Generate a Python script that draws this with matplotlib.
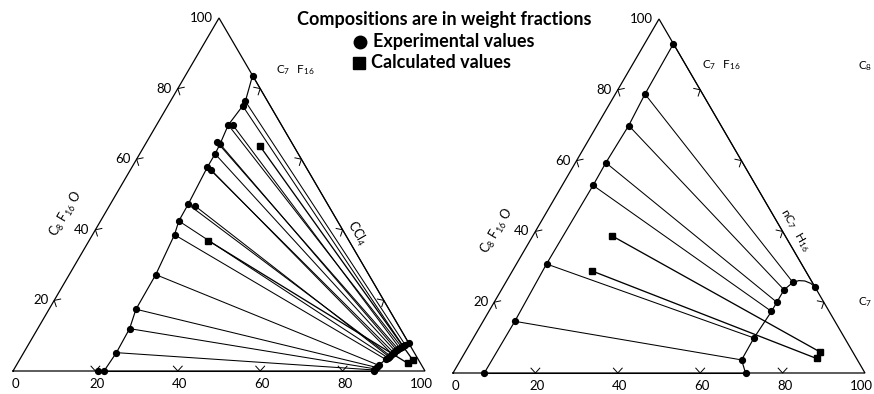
import numpy as np
import matplotlib
matplotlib.use("Agg")
import matplotlib.pyplot as plt
from matplotlib.lines import Line2D

# ---------------- data (weight %) ----------------
# b = bottom-axis reading (right-vertex component), h = C8F16O (apex, left axis)
# Left diagram: C8F16O / C7F16 / CCl4
left_fc_b = [16.3, 18.2, 18.2, 17.4, 18.5, 16.9, 18.1, 18.3, 18.3, 19.7,
             18.9, 20.9, 19.0, 19.9, 21.0, 21.1, 22.3, 22.5, 22.1]
left_fc_h = [83.7, 76.4, 75.1, 69.7, 69.7, 65.0, 64.3, 61.5, 57.8, 56.9,
             47.2, 46.7, 42.5, 38.6, 27.3, 17.5, 12.0, 5.2, 0.0]
left_cc_b = [92.0, 91.5, 91.2, 90.9, 90.6, 90.4, 90.2, 90.0, 89.8, 89.6,
             89.4, 89.3, 89.0, 88.8, 88.0, 87.8, 87.6, 87.4, 87.6]
left_cc_h = [8.0, 7.4, 7.0, 6.8, 6.5, 6.2, 5.9, 5.6, 5.2, 4.8,
             4.3, 4.0, 3.8, 3.3, 1.6, 1.0, 0.6, 0.3, 0.0]
left_extra_b = [20.7]
left_extra_h = [0.0]
left_calc_fc_b = [28.1, 29.0]
left_calc_fc_h = [63.7, 36.9]
left_calc_cc_b = [95.5, 94.7]
left_calc_cc_h = [3.1, 2.2]
left_curve_b = [22.1, 22.5, 22.3, 21.1, 21.0, 19.9, 19.0, 18.9, 18.3, 18.3,
                18.1, 17.4, 18.2, 18.2, 16.3]
left_curve_h = [0.0, 5.2, 12.0, 17.5, 27.3, 38.6, 42.5, 47.2, 57.8, 61.5,
                64.3, 69.7, 75.1, 76.4, 83.7]

# Right diagram: C8F16O / C7F16 / nC7H16
right_fc_b = [7.0, 7.2, 7.7, 7.4, 7.5, 7.3, 7.7, 7.6]
right_fc_h = [93.0, 78.8, 69.9, 59.4, 53.0, 30.8, 14.6, 0.0]
right_hc_b = [75.8, 69.7, 68.6, 68.6, 68.6, 68.1, 68.2, 71.0]
right_hc_h = [24.2, 25.6, 23.5, 20.0, 17.4, 9.9, 3.7, 0.0]
right_calc_fc_b = [19.1, 19.4]
right_calc_fc_h = [38.8, 28.8]
right_calc_hc_b = [86.0, 86.2]
right_calc_hc_h = [6.0, 4.1]
right_curve2_b = [71.0, 68.2, 68.1, 68.6, 68.6, 68.6, 69.7, 70.9, 72.4, 74.2, 75.8]
right_curve2_h = [0.0, 3.7, 9.9, 17.4, 20.0, 23.5, 25.6, 26.1, 26.0, 25.3, 24.2]

tick_vals = [20, 40, 60, 80]
bottom_labels = ["0", "20", "40", "60", "80", "100"]
left_labels = ["20", "40", "60", "80", "100"]

# ---------------- drawing ----------------
plt.rcParams['font.family'] = ['Lato', 'DejaVu Sans']
W, H = 874, 394
fig = plt.figure(figsize=(W / 100, H / 100), dpi=100)
S3 = np.sqrt(3) / 2


def tern(b, h):
    b = np.asarray(b, float)
    h = np.asarray(h, float)
    return b + h / 2, h * S3


def make_axes(x0, x1, ytop, ybot):
    ax = fig.add_axes([x0 / W, (H - ybot) / H, (x1 - x0) / W, (ybot - ytop) / H])
    ax.set_xlim(0, 100)
    ax.set_ylim(0, 100 * S3)
    ax.axis('off')
    tx, ty = tern([0, 100, 0, 0], [0, 0, 100, 0])
    ax.plot(tx, ty, color='k', lw=0.9, clip_on=False, solid_joinstyle='miter')
    # chevron ticks
    edges = [((1, 0), (0, 1), lambda t: tern(t, 0)),
             ((0.5, S3), (S3, -0.5), lambda t: tern(0, t)),
             ((-0.5, S3), (-S3, -0.5), lambda t: tern(100 - t, t))]
    a, th = 1.6, np.radians(42)
    for d, n, f in edges:
        for t in tick_vals:
            px, py = f(t)
            xs = [px + a * (n[0] * np.cos(th) - d[0] * np.sin(th)), px,
                  px + a * (n[0] * np.cos(th) + d[0] * np.sin(th))]
            ys = [py + a * (n[1] * np.cos(th) - d[1] * np.sin(th)), py,
                  py + a * (n[1] * np.cos(th) + d[1] * np.sin(th))]
            ax.plot(xs, ys, color='k', lw=0.7, clip_on=False)
    # tick labels
    for lab in bottom_labels:
        v = float(lab)
        dx = -4 if lab == "100" else 2
        ax.annotate(lab, xy=tern(v, 0), xytext=(dx, -13), textcoords='offset pixels',
                    ha='center', va='center', fontsize=9.5, annotation_clip=False)
    for lab in left_labels:
        v = float(lab)
        ax.annotate(lab, xy=tern(0, v), xytext=(-6, 0), textcoords='offset pixels',
                    ha='right', va='center', fontsize=9.5, annotation_clip=False)
    return ax


def ties(ax, b1, h1, b2, h2, lw=0.75):
    for xb1, xh1, xb2, xh2 in zip(b1, h1, b2, h2):
        x, y = tern([xb1, xb2], [xh1, xh2])
        ax.plot(x, y, color='k', lw=lw, clip_on=False)


dot = dict(ls='none', marker='o', ms=4.2, color='k', clip_on=False, zorder=5)
sq = dict(ls='none', marker='s', ms=4.8, color='k', clip_on=False, zorder=5)

# Left diagram
axL = make_axes(13, 425, 18, 371)
axL.plot(*tern(left_curve_b, left_curve_h), color='k', lw=0.85, clip_on=False)
axL.plot(*tern(left_cc_b[::-1], left_cc_h[::-1]), color='k', lw=0.85, clip_on=False)
ties(axL, left_fc_b, left_fc_h, left_cc_b, left_cc_h)
ties(axL, left_calc_fc_b, left_calc_fc_h, left_calc_cc_b, left_calc_cc_h, lw=0.95)
axL.plot(*tern(left_fc_b, left_fc_h), **dot)
axL.plot(*tern(left_cc_b, left_cc_h), **dot)
axL.plot(*tern(left_extra_b, left_extra_h), **dot)
axL.plot(*tern(left_calc_fc_b, left_calc_fc_h), **sq)
axL.plot(*tern(left_calc_cc_b, left_calc_cc_h), **sq)

# Right diagram
axR = make_axes(453, 865, 19, 373)
axR.plot(*tern(right_fc_b, right_fc_h), color='k', lw=0.85, clip_on=False)
axR.plot(*tern(right_curve2_b, right_curve2_h), color='k', lw=0.85, clip_on=False)
ties(axR, right_fc_b, right_fc_h, right_hc_b, right_hc_h)
ties(axR, right_calc_fc_b, right_calc_fc_h, right_calc_hc_b, right_calc_hc_h, lw=0.95)
axR.plot(*tern(right_fc_b, right_fc_h), **dot)
axR.plot(*tern(right_hc_b, right_hc_h), **dot)
axR.plot(*tern(right_calc_fc_b, right_calc_fc_h), **sq)
axR.plot(*tern(right_calc_hc_b, right_calc_hc_h), **sq)


def ftext(x, y, s, **kw):
    fig.text(x / W, 1 - y / H, s, **kw)


# component labels
ftext(66, 214, r"$\mathregular{C_8\ F_{16}\ O}$", rotation=59, ha='center', va='center', fontsize=9)
ftext(295, 70, r"$\mathregular{C_7\ \ F_{16}}$", ha='center', va='center', fontsize=8.5)
ftext(357, 233, r"$\mathregular{CCl_4}$", rotation=-60, ha='center', va='center', fontsize=9)
ftext(497, 231, r"$\mathregular{C_8\ F_{16}\ O}$", rotation=59, ha='center', va='center', fontsize=9)
ftext(721, 65, r"$\mathregular{C_7\ \ F_{16}}$", ha='center', va='center', fontsize=8.5)
ftext(795, 230, r"$\mathregular{nC_7\ \ H_{16}}$", rotation=-60, ha='center', va='center', fontsize=8.5)
ftext(858, 66, r"$\mathregular{C_8}$", ha='left', va='center', fontsize=8.5)
ftext(858, 302, r"$\mathregular{C_7}$", ha='left', va='center', fontsize=8.5)

# legend block
ftext(444, 20, "Compositions are in weight fractions", ha='center', va='center',
      fontsize=13, fontweight='bold')
ftext(373, 42, "Experimental values", ha='left', va='center', fontsize=13, fontweight='bold')
ftext(371, 63, "Calculated values", ha='left', va='center', fontsize=13, fontweight='bold')
fig.add_artist(Line2D([360 / W], [1 - 42 / H], transform=fig.transFigure,
                      marker='o', ms=9, color='k', ls='none'))
fig.add_artist(Line2D([359 / W], [1 - 63 / H], transform=fig.transFigure,
                      marker='s', ms=8, color='k', ls='none'))

fig.savefig("out.png", dpi=100, facecolor='white')
